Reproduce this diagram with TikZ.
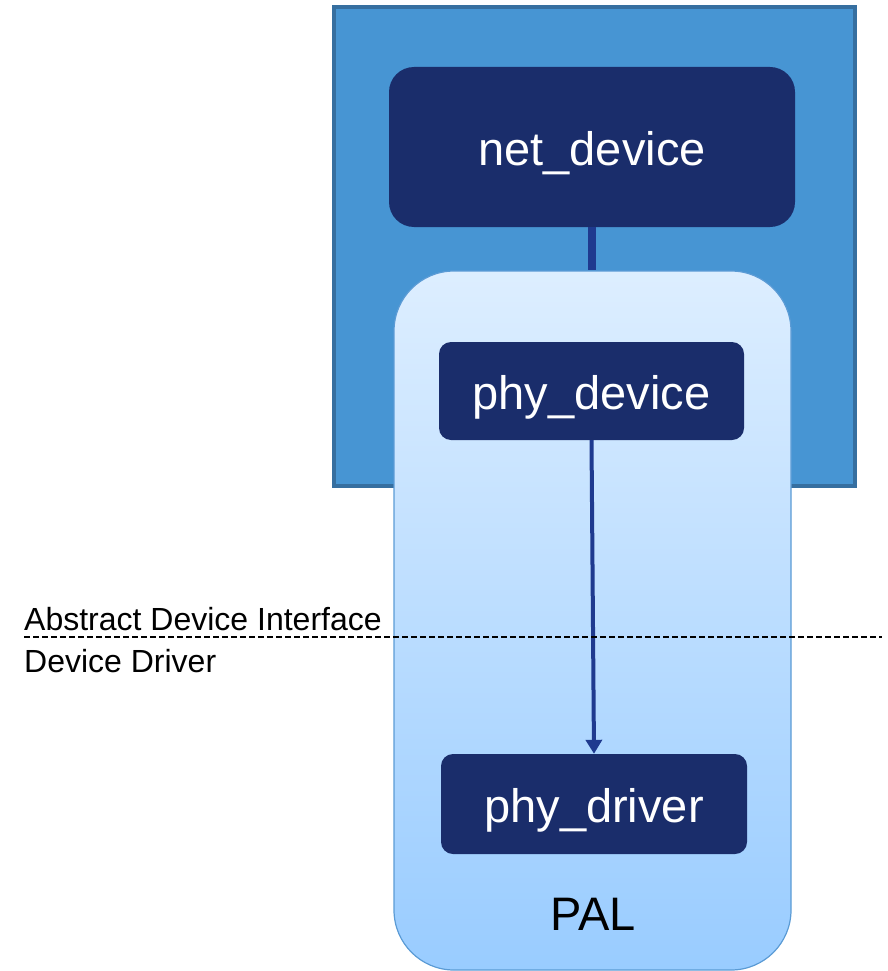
\documentclass[tikz,border=0pt]{standalone}
\usepackage{fontspec}
\setmainfont{Liberation Sans}
\usetikzlibrary{arrows.meta}
\definecolor{outerblue}{HTML}{4795D3}
\definecolor{outerborder}{HTML}{366FA0}
\definecolor{darknavy}{HTML}{1A2D6B}
\definecolor{linkblue}{HTML}{1F3A8F}
\definecolor{paltop}{HTML}{DDEEFF}
\definecolor{palbot}{HTML}{99CCFF}
\definecolor{palborder}{HTML}{5B9BD5}
\tikzset{
  navybox/.style={fill=darknavy, draw=none, text=white, font=\fontsize{47}{50}\selectfont,
    text height=46pt, text depth=10pt, inner sep=0pt},
  sidelabel/.style={font=\fontsize{32}{34}\selectfont, inner sep=0pt, anchor=base west},
}
\begin{document}
\begin{tikzpicture}[x=1pt,y=-1pt]
\useasboundingbox (0,0) rectangle (888,971);
% outer blue box
\node[fill=outerblue, draw=outerborder, line width=3.5pt, minimum width=521pt, minimum height=479pt, inner sep=0pt] (outer) at (594.5,246.5) {};
% net_device
\node[navybox, rounded corners=25pt, minimum width=406pt, minimum height=160pt] (netdev) at (592,147) {net\_device};
% PAL container
\node[top color=paltop, bottom color=palbot, draw=palborder, line width=1.2pt, rounded corners=60pt, minimum width=397pt, minimum height=699pt, inner sep=0pt] (pal) at (592.5,620.5) {};
\draw[linkblue, line width=8pt] (netdev.south) -- (netdev.south |- pal.north);
% phy nodes
\node[navybox, rounded corners=12pt, minimum width=305pt, minimum height=98pt] (phydev) at (591.5,391) {phy\_device};
\node[navybox, rounded corners=12pt, minimum width=306pt, minimum height=100pt] (phydrv) at (594,804) {phy\_driver};
\draw[linkblue, line width=4pt, -{Triangle[width=16pt,length=14pt]}] (phydev.south) -- (phydrv.north);
% PAL label
\node[font=\fontsize{47}{50}\selectfont, anchor=base, inner sep=0pt] (pallabel) at (593,930) {PAL};
% dashed boundary
\coordinate (dl) at (24,637);
\coordinate (dr) at (882,637);
\draw[black, line width=1.8pt, dash pattern=on 6pt off 3pt] (dl) -- (dr);
\node[sidelabel] (adi) at (24,630) {Abstract Device Interface};
\node[sidelabel] (ddr) at (24,672) {Device Driver};
\end{tikzpicture}
\end{document}
